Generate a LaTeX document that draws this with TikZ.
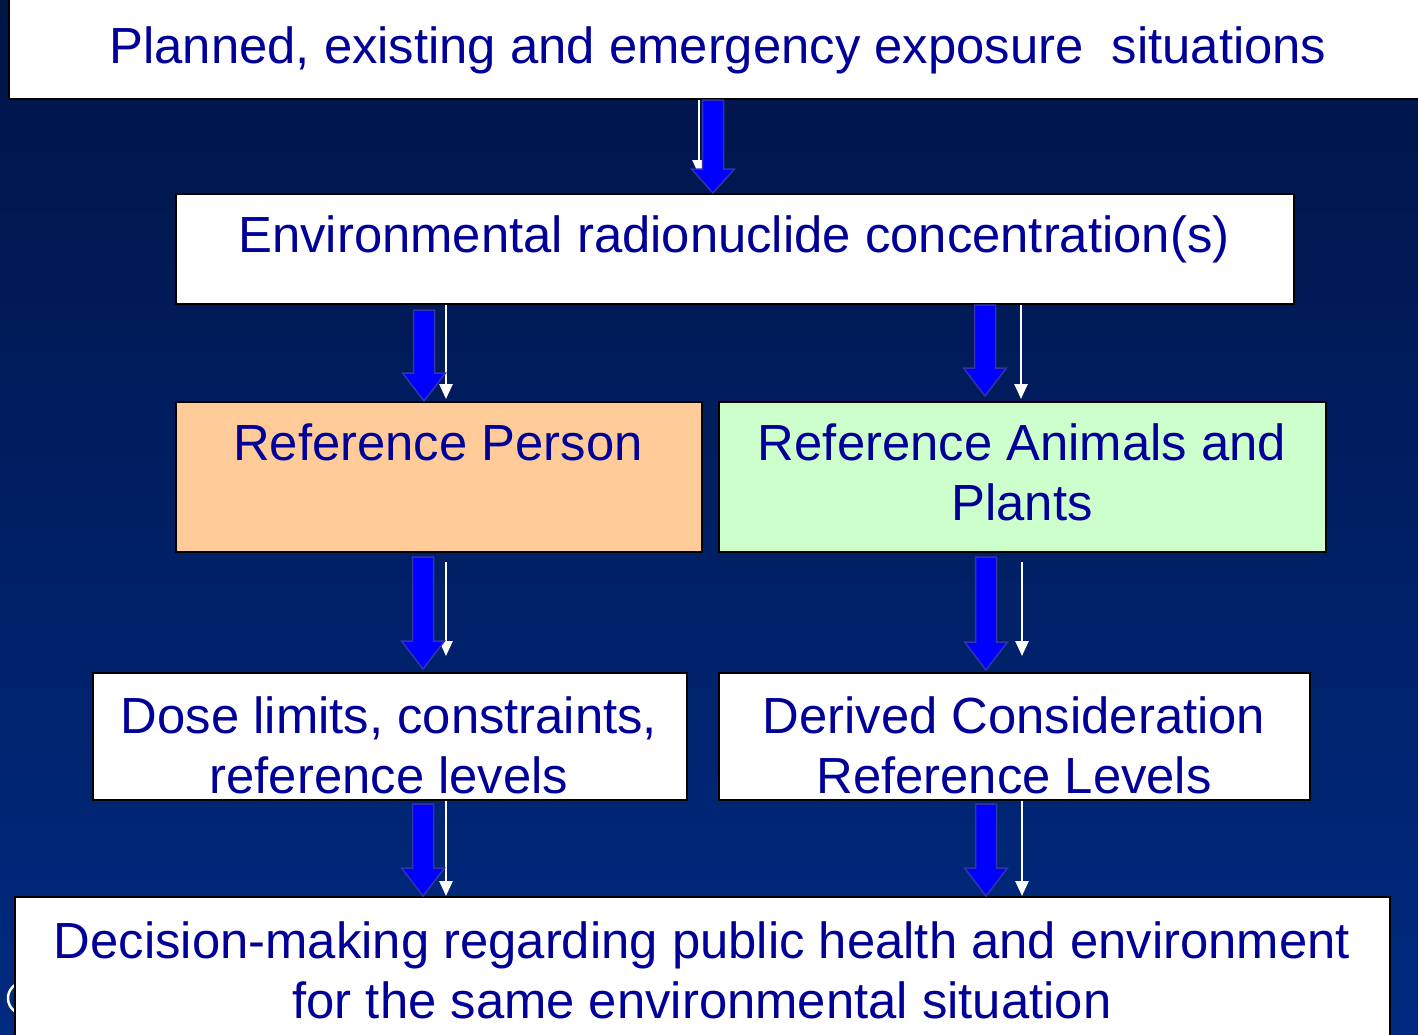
\documentclass[tikz,border=0pt]{standalone}
\usepackage{fontspec}
\setmainfont{Liberation Sans}
\usetikzlibrary{calc,arrows.meta}
\definecolor{txtblue}{RGB}{0,0,153}
\definecolor{bgtop}{RGB}{0,20,70}
\definecolor{bgbot}{RGB}{0,42,128}
\definecolor{peach}{RGB}{255,204,153}
\definecolor{mint}{RGB}{204,255,204}
\definecolor{arrowblue}{RGB}{0,0,255}
\definecolor{arrowedge}{RGB}{50,50,170}
\tikzset{
  box/.style={draw=black, line width=2pt, fill=white, rectangle, inner sep=0pt, anchor=north west},
  txt/.style={text=txtblue, font=\fontsize{50.8}{60}\selectfont, align=center, inner sep=0pt, anchor=base},
  barrow/.style={fill=arrowblue, draw=arrowedge, line width=1.5pt, line join=miter},
  warrow/.style={draw=white, line width=2.5pt, -{Triangle[width=13pt,length=15pt]}, white},
}
\newcommand\bluearrow[3][28pt]{%
  \path[barrow] let \p1=(#2), \p2=(#3) in
    (\x1-10.5pt,\y1) -- (\x1+10.5pt,\y1) -- (\x1+10.5pt,\y2+#1) -- (\x1+21.5pt,\y2+#1)
    -- (\x1,\y2) -- (\x1-21.5pt,\y2+#1) -- (\x1-10.5pt,\y2+#1) -- cycle;}
\begin{document}
\begin{tikzpicture}[x=1pt,y=-1pt]
\useasboundingbox (0,0) rectangle (1418,1034);
\clip (0,0) rectangle (1418,1034);
\shade[top color=bgtop, bottom color=bgbot] (0,0) rectangle (1418,1034);
% partial logo letter at lower left
\draw[white, line width=2.5pt] (16,1012) arc[start angle=120, end angle=240, radius=16];
% boxes
\node[box, minimum width=1420pt, minimum height=100pt] (top) at (8,-2) {};
\node[box, minimum width=1118pt, minimum height=110pt] (env) at (175,193) {};
\node[box, fill=peach, minimum width=526pt, minimum height=150pt] (rp) at (175,401) {};
\node[box, fill=mint, minimum width=607pt, minimum height=150pt] (rap) at (718,401) {};
\node[box, minimum width=594pt, minimum height=127pt] (dose) at (92,672) {};
\node[box, minimum width=591pt, minimum height=127pt] (drl) at (718,672) {};
\node[box, minimum width=1375pt, minimum height=150pt] (dec) at (14,896) {};
% texts (base anchor = baseline of last line)
\node[txt] (topt) at (718,63) {Planned, existing and emergency exposure \ situations};
\node[txt] (envt) at (734,252) {Environmental radionuclide concentration(s)};
\node[txt] (rpt) at (438,460) {Reference Person};
\node[txt] (rapt) at (1022,520) {Reference Animals and\\Plants};
\node[txt] (doset) at (389,793) {Dose limits, constraints,\\reference levels};
\node[txt] (drlt) at (1014,793) {Derived Consideration\\Reference Levels};
\node[txt] (dect) at (702,1018) {Decision-making regarding public health and environment\\for the same environmental situation};
% arrows: top -> env
\draw[warrow] (699,0 |- top.south) -- (699,175);
\bluearrow[24pt]{713,0 |- top.south}{713,0 |- env.north}
% env -> rp, rap
\draw[warrow] (446,0 |- env.south) -- ($(446,0 |- rp.north)+(0,-2)$);
\bluearrow{$(424,0 |- env.south)+(0,5)$}{424,0 |- rp.north}
\draw[warrow] (1021,0 |- env.south) -- ($(1021,0 |- rap.north)+(0,-2)$);
\bluearrow{985,0 |- env.south}{$(985,0 |- rap.north)+(0,-5)$}
% rp -> dose, rap -> drl
\draw[warrow] ($(446,0 |- rp.south)+(0,9)$) -- ($(446,0 |- dose.north)+(0,-16)$);
\bluearrow{$(423,0 |- rp.south)+(0,4)$}{$(423,0 |- dose.north)+(0,-3)$}
\draw[warrow] ($(1022,0 |- rap.south)+(0,9)$) -- ($(1022,0 |- drl.north)+(0,-16)$);
\bluearrow{$(986,0 |- rap.south)+(0,4)$}{$(986,0 |- drl.north)+(0,-2)$}
% dose -> dec, drl -> dec
\draw[warrow] (446,0 |- dose.south) -- (446,0 |- dec.north);
\bluearrow{$(423,0 |- dose.south)+(0,3)$}{423,0 |- dec.north}
\draw[warrow] (1022,0 |- drl.south) -- (1022,0 |- dec.north);
\bluearrow{$(986,0 |- drl.south)+(0,3)$}{986,0 |- dec.north}
\end{tikzpicture}
\end{document}
